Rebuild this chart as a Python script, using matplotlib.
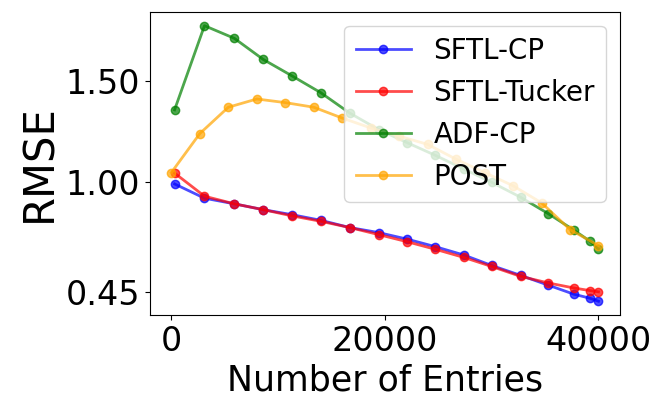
import matplotlib
matplotlib.use('Agg')
import matplotlib.pyplot as plt

# number of entries seen
entries = [300, 3100, 5900, 8600, 11300, 14000, 16700, 19400, 22100,
           24700, 27400, 30000, 32700, 35300, 37700, 39200, 40000]
entries_post = [0, 2667, 5333, 8000, 10667, 13333, 16000, 18667, 21333,
                24000, 26667, 29333, 32000, 34667, 37333, 40000]

sftl_cp = [0.989, 0.918, 0.890, 0.861, 0.836, 0.808, 0.772, 0.747, 0.714,
           0.677, 0.635, 0.583, 0.534, 0.485, 0.440, 0.420, 0.405]
sftl_tucker = [1.043, 0.928, 0.890, 0.861, 0.830, 0.803, 0.772, 0.737, 0.701,
               0.664, 0.623, 0.578, 0.529, 0.496, 0.471, 0.458, 0.452]
adf_cp = [1.358, 1.777, 1.714, 1.609, 1.527, 1.443, 1.342, 1.260, 1.194,
          1.132, 1.063, 0.997, 0.923, 0.841, 0.759, 0.704, 0.665]
post = [1.046, 1.240, 1.371, 1.412, 1.394, 1.371, 1.317, 1.268, 1.227,
        1.186, 1.112, 1.046, 0.980, 0.895, 0.762, 0.682]

fig = plt.figure(figsize=(6.58, 3.97), dpi=100)
ax = fig.add_axes([0.228, 0.2065, 0.714, 0.7635])

ax.plot(entries, sftl_cp, 'o-', color='blue', alpha=0.7, lw=2, ms=6, label='SFTL-CP')
ax.plot(entries, sftl_tucker, 'o-', color='red', alpha=0.7, lw=2, ms=6, label='SFTL-Tucker')
ax.plot(entries, adf_cp, 'o-', color='green', alpha=0.7, lw=2, ms=6, label='ADF-CP')
ax.plot(entries_post, post, 'o-', color='orange', alpha=0.7, lw=2, ms=6, label='POST')

ax.set_yticks([0.45, 1.00, 1.50])
ax.set_yticklabels(['0.45', '1.00', '1.50'])
ax.set_xticks([0, 20000, 40000])
ax.tick_params(labelsize=24)
ax.set_xlabel('Number of Entries', fontsize=25)
ax.set_ylabel('RMSE', fontsize=30)
ax.legend(loc='upper right', fontsize=20)

fig.savefig('out.png', dpi=100)
